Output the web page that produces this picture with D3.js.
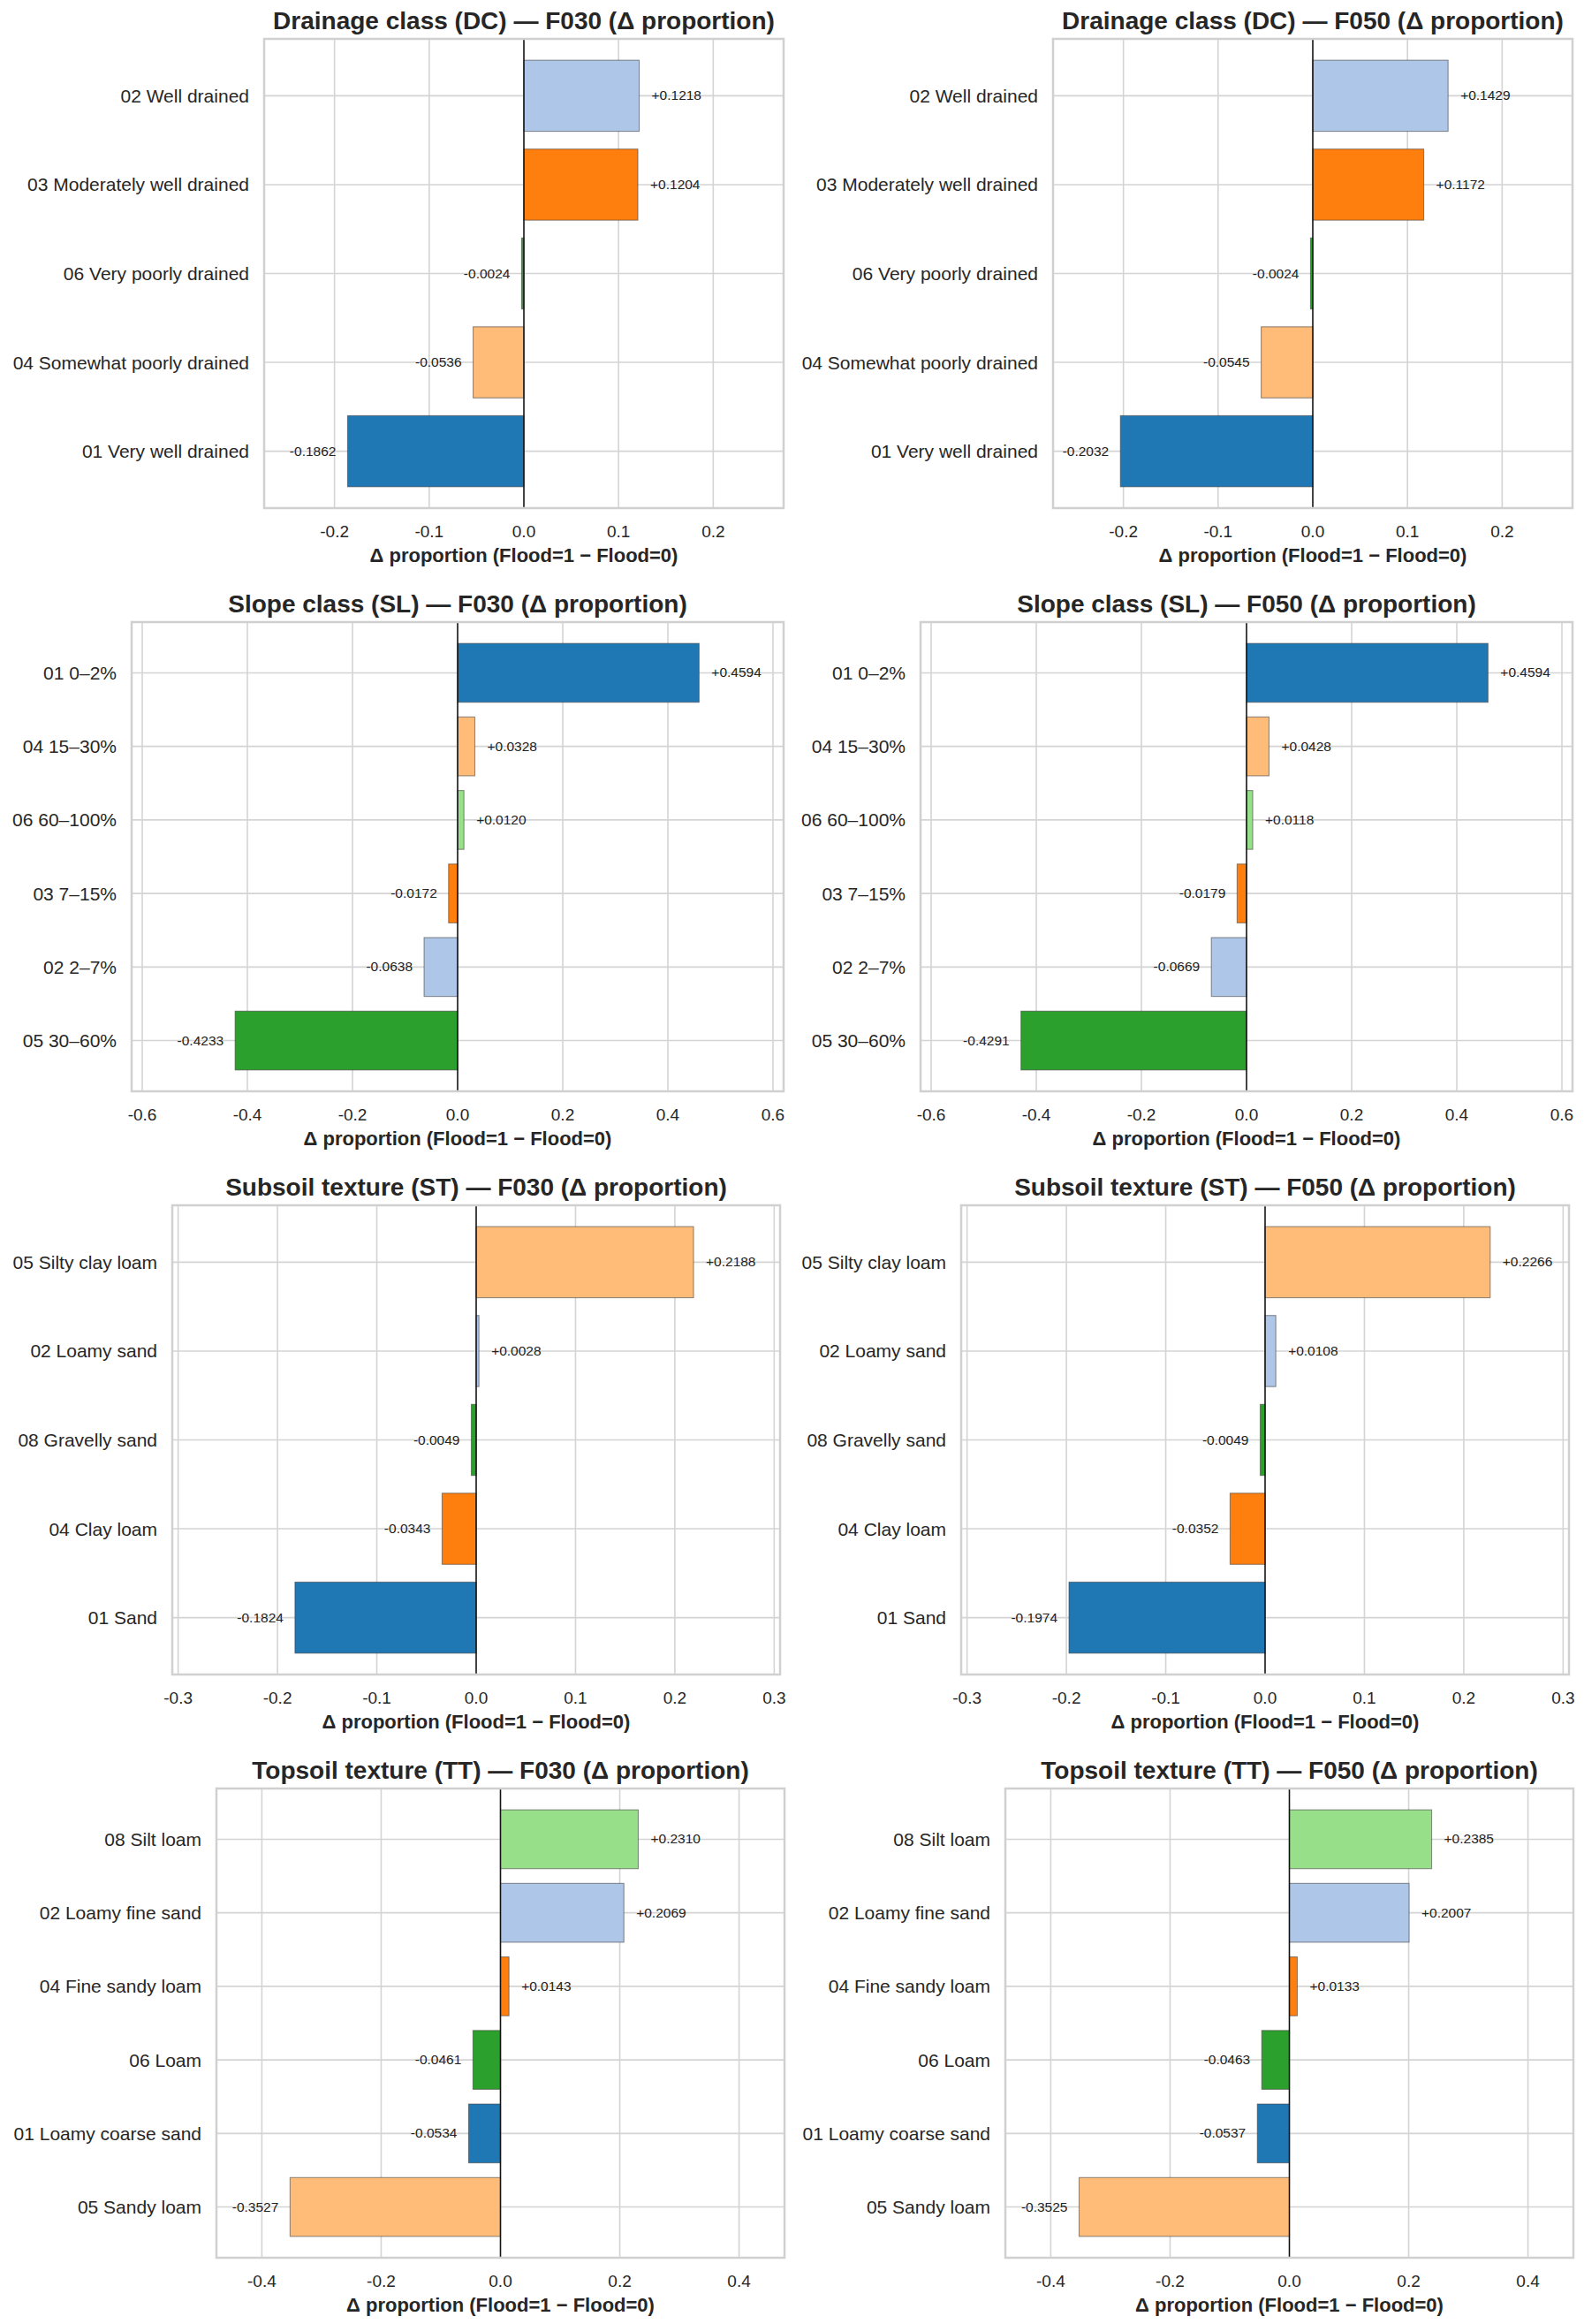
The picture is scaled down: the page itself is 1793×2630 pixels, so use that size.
<!DOCTYPE html>
<html>
<head>
<meta charset="utf-8">
<script src="https://cdn.jsdelivr.net/npm/d3@7"></script>
<style>
  body { margin: 0; background: #fff; }
  text { font-family: "Liberation Sans", Arial, sans-serif; fill: #262626; }
</style>
</head>
<body>
<div id="chart"></div>
<script>

// categories (top to bottom, as drawn) and deltas for each flood frequency
var dcLabels = ["02 Well drained", "03 Moderately well drained", "06 Very poorly drained", "04 Somewhat poorly drained", "01 Very well drained"];
var dcF030 = [0.1218, 0.1204, -0.0024, -0.0536, -0.1862];
var dcF050 = [0.1429, 0.1172, -0.0024, -0.0545, -0.2032];
var dcTicks = [-0.2, -0.1, 0.0, 0.1, 0.2];

var slLabels = ["01 0–2%", "04 15–30%", "06 60–100%", "03 7–15%", "02 2–7%", "05 30–60%"];
var slF030 = [0.4594, 0.0328, 0.0120, -0.0172, -0.0638, -0.4233];
var slF050 = [0.4594, 0.0428, 0.0118, -0.0179, -0.0669, -0.4291];
var slTicks = [-0.6, -0.4, -0.2, 0.0, 0.2, 0.4, 0.6];

var stLabels = ["05 Silty clay loam", "02 Loamy sand", "08 Gravelly sand", "04 Clay loam", "01 Sand"];
var stF030 = [0.2188, 0.0028, -0.0049, -0.0343, -0.1824];
var stF050 = [0.2266, 0.0108, -0.0049, -0.0352, -0.1974];
var stTicks = [-0.3, -0.2, -0.1, 0.0, 0.1, 0.2, 0.3];

var ttLabels = ["08 Silt loam", "02 Loamy fine sand", "04 Fine sandy loam", "06 Loam", "01 Loamy coarse sand", "05 Sandy loam"];
var ttF030 = [0.2310, 0.2069, 0.0143, -0.0461, -0.0534, -0.3527];
var ttF050 = [0.2385, 0.2007, 0.0133, -0.0463, -0.0537, -0.3525];
var ttTicks = [-0.4, -0.2, 0.0, 0.2, 0.4];

var palette = ["#1f77b4", "#aec7e8", "#ff7f0e", "#ffbb78", "#2ca02c", "#98df8a"];

var rows = [
    { name: "Drainage class (DC)", labels: dcLabels, f030: dcF030, f050: dcF050, ticks: dcTicks },
    { name: "Slope class (SL)", labels: slLabels, f030: slF030, f050: slF050, ticks: slTicks },
    { name: "Subsoil texture (ST)", labels: stLabels, f030: stF030, f050: stF050, ticks: stTicks },
    { name: "Topsoil texture (TT)", labels: ttLabels, f030: ttF030, f050: ttF050, ticks: ttTicks }
];

// layout
var width = 1793, height = 2630;
var rowTop = [44, 704, 1364, 2024];
var axH = 531;
var axLeft = [299, 149, 195, 245];
var axRight = [887, 887, 883, 888];
var colShift = 893;

var svg = d3.select("#chart").append("svg")
    .attr("width", width)
    .attr("height", height);

svg.append("rect").attr("width", width).attr("height", height).attr("fill", "#fff");

function fmt(v) {
    return (v >= 0 ? "+" : "-") + Math.abs(v).toFixed(4);
}

function drawPanel(row, r, values, tag, shift) {
    var left = axLeft[r] + shift, right = axRight[r] + shift;
    var top = rowTop[r], bottom = top + axH;
    var n = row.labels.length;

    // shared x range across the row
    var lim = 1.35 * d3.max(row.f030.concat(row.f050), function (d) { return Math.abs(d); });
    var x = d3.scaleLinear().domain([-lim, lim]).range([left, right]);
    var pad = 0.05 * (n - 0.2);
    var y = d3.scaleLinear().domain([-0.4 - pad, n - 0.6 + pad]).range([top, bottom]);

    var codes = row.labels.map(function (l) { return l.slice(0, 2); }).sort();
    var color = function (l) { return palette[codes.indexOf(l.slice(0, 2))]; };

    var g = svg.append("g");

    // grid
    g.selectAll("line.vgrid").data(row.ticks).enter().append("line")
        .attr("x1", function (d) { return x(d); }).attr("x2", function (d) { return x(d); })
        .attr("y1", top).attr("y2", bottom)
        .attr("stroke", "#d4d4d4").attr("stroke-width", 1.6);
    g.selectAll("line.hgrid").data(row.labels).enter().append("line")
        .attr("x1", left).attr("x2", right)
        .attr("y1", function (d, i) { return y(i); }).attr("y2", function (d, i) { return y(i); })
        .attr("stroke", "#d4d4d4").attr("stroke-width", 1.6);

    // bars
    g.selectAll("rect.bar").data(values).enter().append("rect")
        .attr("x", function (d) { return Math.min(x(0), x(d)); })
        .attr("width", function (d) { return Math.abs(x(d) - x(0)); })
        .attr("y", function (d, i) { return y(i - 0.4); })
        .attr("height", function (d, i) { return y(i + 0.4) - y(i - 0.4); })
        .attr("fill", function (d, i) { return color(row.labels[i]); })
        .attr("stroke", "rgba(60,60,60,0.55)")
        .attr("stroke-width", 1.1);

    // zero line
    g.append("line")
        .attr("x1", x(0)).attr("x2", x(0)).attr("y1", top).attr("y2", bottom)
        .attr("stroke", "#111").attr("stroke-width", 1.5);

    // frame
    g.append("rect")
        .attr("x", left).attr("y", top).attr("width", right - left).attr("height", axH)
        .attr("fill", "none").attr("stroke", "#d0d0d0").attr("stroke-width", 2.5);

    // value labels
    g.selectAll("text.val").data(values).enter().append("text")
        .attr("x", function (d) { return x(d) + (d >= 0 ? 14 : -13); })
        .attr("y", function (d, i) { return y(i) + 5; })
        .attr("text-anchor", function (d) { return d >= 0 ? "start" : "end"; })
        .style("font-size", "15.5px")
        .style("fill", "#222")
        .text(fmt);

    // y tick labels
    g.selectAll("text.ylab").data(row.labels).enter().append("text")
        .attr("x", left - 17)
        .attr("y", function (d, i) { return y(i) + 7.5; })
        .attr("text-anchor", "end")
        .style("font-size", "21px")
        .text(function (d) { return d; });

    // x tick labels (plain hyphen, as in the original)
    g.selectAll("text.xlab").data(row.ticks).enter().append("text")
        .attr("x", function (d) { return x(d); })
        .attr("y", bottom + 33)
        .attr("text-anchor", "middle")
        .style("font-size", "19px")
        .text(function (d) { return d3.format(".1f")(d).replace("−", "-"); });

    g.append("text")
        .attr("x", (left + right) / 2).attr("y", bottom + 61)
        .attr("text-anchor", "middle")
        .style("font-size", "22px").style("font-weight", "bold")
        .text("Δ proportion (Flood=1 − Flood=0)");

    g.append("text")
        .attr("x", (left + right) / 2).attr("y", top - 11)
        .attr("text-anchor", "middle")
        .style("font-size", "28px").style("font-weight", "bold")
        .text(row.name + " — " + tag + " (Δ proportion)");
}

rows.forEach(function (row, r) {
    drawPanel(row, r, row.f030, "F030", 0);
    drawPanel(row, r, row.f050, "F050", colShift);
});

</script>
</body>
</html>
